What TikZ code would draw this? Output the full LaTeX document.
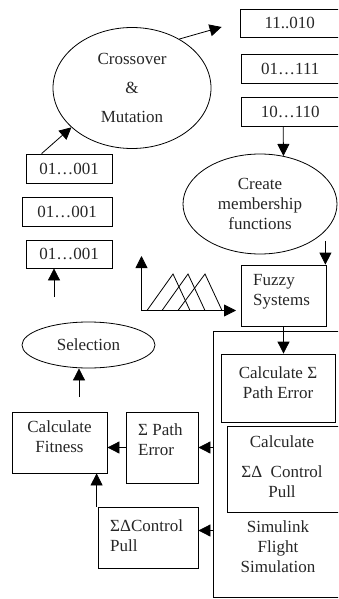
\documentclass[tikz,border=0pt]{standalone}
\usepackage{fontspec}
\setmainfont{Liberation Serif}
\usetikzlibrary{shapes.geometric,arrows.meta,calc}
\tikzset{
  base/.style={draw=black, line width=0.8pt, inner sep=0pt, font=\fontsize{17}{20}\selectfont, text=black!85},
  box/.style={base, rectangle},
  oval/.style={base, ellipse, align=center},
  txt/.style={font=\fontsize{17}{20}\selectfont, text=black!85, inner sep=0pt},
  arr/.style={line width=0.8pt, -{Triangle[length=12pt,width=12pt]}},
  ln/.style={line width=0.8pt}
}
\begin{document}
\begin{tikzpicture}[x=1pt,y=-1pt]
\useasboundingbox (0,0) rectangle (338,599);
\clip (0,0) rectangle (338,599);
% ellipses
\node[oval, minimum width=158pt, minimum height=121pt] (cm) at (132,88) {Crossover\\[9pt]\&\\[9pt]Mutation};
\node[oval, minimum width=154pt, minimum height=100pt] (cmf) at (260,204) {Create\\membership\\functions};
\node[oval, minimum width=133pt, minimum height=46pt] (sel) at (88.5,345) {Selection};
% right strings
\node[box, minimum width=99.5pt, minimum height=28pt] (b1) at (289.75,23) {11..010};
\node[box, minimum width=98.5pt, minimum height=29pt] (b2) at (290.25,68.5) {01\ldots111};
\node[box, minimum width=98.5pt, minimum height=29pt] (b3) at (290.25,111.5) {10\ldots110};
% left strings
\node[box, minimum width=86pt, minimum height=29pt] (L1) at (69,168.5) {01\ldots001};
\node[box, minimum width=90pt, minimum height=29pt] (L2) at (67,211.5) {01\ldots001};
\node[box, minimum width=86pt, minimum height=28pt] (L3) at (69,254) {01\ldots001};
% fuzzy systems
\node[box, minimum width=85pt, minimum height=61pt] (fz) at (283.5,295.5) {};
\node[txt, align=left, anchor=west] (fzt) at (253,291.5) {Fuzzy\\Systems};
% simulink
\node[box, minimum width=132pt, minimum height=266pt] (sim) at (279,464) {};
\node[txt, align=center] (simt) at (278,547) {Simulink\\Flight\\Simulation};
\node[box, minimum width=114pt, minimum height=68pt] (cpe) at (278,388) {};
\node[txt, align=center] (cpet) at (278,383) {Calculate Σ\\Path Error};
\node[box, minimum width=112.5pt, minimum height=86pt] (ccp) at (283.25,469) {};
\node[txt, align=center] (ccpt) at (282,467) {Calculate\\[10pt]ΣΔ\ \ Control\\Pull};
% left results
\node[box, minimum width=72pt, minimum height=71pt] (spe) at (162,447.5) {};
\node[txt, align=left, anchor=west] (spet) at (138,440) {Σ Path\\Error};
\node[box, minimum width=95pt, minimum height=61pt] (cf) at (59.5,442.5) {};
\node[txt, align=center] (cft) at (59.5,437) {Calculate\\Fitness};
\node[box, minimum width=100pt, minimum height=61pt] (scp) at (148,537.5) {};
\node[txt, align=left, anchor=west] (scpt) at (110,536) {ΣΔControl\\Pull};
% connectors
\draw[arr] ([xshift=16pt]L1.north west) -- (cm.213.5);
\draw[arr] (cm.46) -- ($(b1.west)+(-18,4)$);
\draw[arr] ([xshift=-7pt]b3.south) -- (cmf.64.4);
\draw[arr] ([xshift=-1pt]fz.north east |- cmf.-35) -- ([xshift=-1pt]fz.north east);
\draw[arr] (fz.south) -- (fz.south |- cpe.north);
\draw[arr] (sim.west |- spe.east) -- (spe.east);
\draw[arr] (spe.west) -- (cf.east |- spe.west);
\draw[arr] ([yshift=7pt]sim.west |- scp.east) -- ([yshift=7pt]scp.east);
\draw[arr] ([xshift=-1pt]scp.north west) -- ([xshift=-1pt]scp.north west |- cf.south);
\coordinate (selstart) at (79,397);
\draw[arr] (selstart) -- (selstart |- sel.south);
\coordinate (l3start) at (54,297);
\draw[arr] (l3start) -- (l3start |- L3.south);
% membership plot
\coordinate (org) at (141.5,310.5);
\coordinate (yax) at (141.5,256);
\coordinate (xax) at (236,310.5);
\draw[arr] (org) -- (yax);
\draw[arr] (org) -- (xax);
\draw[ln] (147,310.5) -- (173,274) -- (190,310.5);
\draw[ln] (162,310.5) -- (188,274) -- (205,310.5);
\draw[ln] (178,310.5) -- (205,274) -- (222,310.5);
\end{tikzpicture}
\end{document}
